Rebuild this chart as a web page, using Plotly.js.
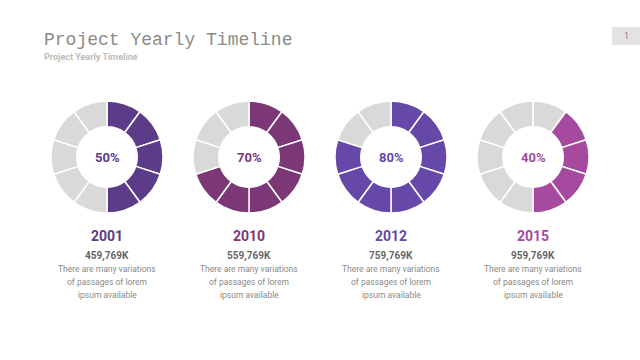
<!DOCTYPE html>
<html>
<head>
<meta charset="utf-8">
<script src="https://cdn.plot.ly/plotly-3.0.1.min.js"></script>
<style>
html,body{margin:0;padding:0;background:#fff;}
#chart{width:640px;height:360px;}
</style>
</head>
<body>
<div id="chart"></div>
<script>
// ---- data ----
const years = ["2001", "2010", "2012", "2015"];
const percents = [50, 70, 80, 40];
const amounts = ["459,769K", "559,769K", "759,769K", "959,769K"];
const segmentStart = [0, 0, 0, 1];   // first coloured segment (clockwise from 12 o'clock)
const segmentValues = [1, 1, 1, 1, 1, 1, 1, 1, 1, 1];
const descriptionLines = ["There are many variations", "of passages of lorem", "ipsum available"];
const titleText = "Project Yearly Timeline";
const subtitleText = "Project Yearly Timeline";

// ---- styles ----
const accent = ["#5c3b88", "#7c3776", "#6548a8", "#a54a9f"];
const grey = "#d9d9d9";
const centersX = [107, 249, 391, 533];
const W = 640, H = 360;
const radius = 56, cy = 157;
const sans = "Roboto, sans-serif";

function ann(text, px, py, font, extra) {
  return Object.assign({
    text: text, x: px / W, y: (H - py) / H,
    xref: "paper", yref: "paper", showarrow: false,
    xanchor: "center", yanchor: "middle", font: font
  }, extra || {});
}

const traces = [];
const annotations = [];
years.forEach((yr, i) => {
  const nOn = Math.round(percents[i] / 10);
  const colors = segmentValues.map((v, k) =>
    (k >= segmentStart[i] && k < segmentStart[i] + nOn) ? accent[i] : grey);
  traces.push({
    type: "pie",
    values: segmentValues,
    sort: false,
    direction: "clockwise",
    rotation: 0,
    hole: 0.54,
    textinfo: "none",
    hoverinfo: "skip",
    marker: {colors: colors, line: {color: "#ffffff", width: 1.5}},
    domain: {
      x: [(centersX[i] - radius) / W, (centersX[i] + radius) / W],
      y: [(H - cy - radius) / H, (H - cy + radius) / H]
    },
    showlegend: false
  });
  const cx = centersX[i];
  annotations.push(ann("<b>" + percents[i] + "%</b>", cx, cy,
    {family: sans, size: 13, color: accent[i]}));
  annotations.push(ann("<b>" + yr + "</b>", cx, 236,
    {family: sans, size: 14, color: accent[i]}));
  annotations.push(ann("<b>" + amounts[i] + "</b>", cx, 256,
    {family: sans, size: 10, color: "#666666"}));
  descriptionLines.forEach((line, j) => {
    annotations.push(ann(line, cx, 269 + 13 * j,
      {family: sans, size: 8.5, color: "#8a8a8a"}));
  });
});

annotations.push(ann(titleText, 42, 40,
  {family: "Liberation Mono", size: 18, color: "#8a8a8a"}, {xanchor: "left"}));
annotations.push(ann("<b>" + subtitleText + "</b>", 42, 57,
  {family: sans, size: 9, color: "#bdbdbd"}, {xanchor: "left"}));
annotations.push(ann("1", 626, 36,
  {family: sans, size: 9, color: "#888888"}));

const layout = {
  width: W, height: H,
  margin: {l: 0, r: 0, t: 0, b: 0},
  paper_bgcolor: "#ffffff",
  plot_bgcolor: "#ffffff",
  showlegend: false,
  annotations: annotations,
  shapes: [{
    type: "rect", xref: "paper", yref: "paper",
    x0: 612 / W, x1: 1.01, y0: (H - 45) / H, y1: (H - 27) / H,
    fillcolor: "#e3e3e3", line: {width: 0}, layer: "below"
  }]
};

Plotly.newPlot("chart", traces, layout, {staticPlot: true, displayModeBar: false});
</script>
</body>
</html>
